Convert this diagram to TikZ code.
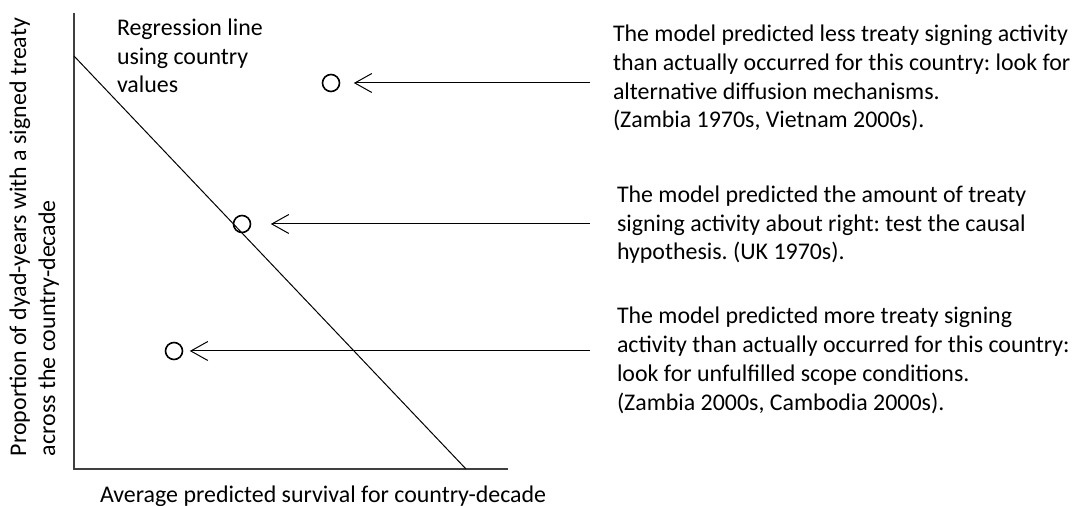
\documentclass[tikz,border=0pt]{standalone}
\usepackage{fontspec}
\setmainfont{Carlito}
\usetikzlibrary{arrows.meta}
\begin{document}
\frenchspacing
\begin{tikzpicture}[x=1bp,y=-1bp,
  lbl/.style={inner sep=0pt, outer sep=0pt, align=left, anchor=base west,
    font=\fontsize{23.9bp}{28.8bp}\selectfont\frenchspacing},
  pt/.style={circle, draw, line width=1.6bp, minimum size=17bp, inner sep=0pt},
  axis/.style={draw=black!75, line width=1.5bp},
  arr/.style={line width=1bp, -{Straight Barb[length=17bp,width=19bp,line width=1bp]}}]
\useasboundingbox (0,0) rectangle (1085,506);
% axes
\draw[axis] (74,13) -- (74,469) -- (508,469);
% regression line
\coordinate (r1) at (74,56);
\coordinate (r2) at (466,469);
\draw[line width=1bp] (r1) -- (r2);
% points
\node[pt] (c1) at (331,83) {};
\node[pt] (c2) at (242,224) {};
\node[pt] (c3) at (174,351) {};
% arrow starts
\coordinate (s1) at (590,83);
\coordinate (s2) at (590,224);
\coordinate (s3) at (590,351);
\draw[arr, shorten >=13.5bp] (s1) -- (c1);
\draw[arr, shorten >=19.5bp] (s2) -- (c2);
\draw[arr, shorten >=6.5bp] (s3) -- (c3);
% labels (anchor = baseline of last line)
\node[lbl] (reg) at (117,93) {Regression line\\using country\\values};
\node[lbl] (t1) at (613,128) {The model predicted less treaty signing activity\\than actually occurred for this country: look for\\alternative diffusion mechanisms.\\(Zambia 1970s, Vietnam 2000s).};
\node[lbl] (t2) at (617,260) {The model predicted the amount of treaty\\signing activity about right: test the causal\\hypothesis. (UK 1970s).};
\node[lbl] (t3) at (617,410) {The model predicted more treaty signing\\activity than actually occurred for this country:\\look for unfulfilled scope conditions.\\(Zambia 2000s, Cambodia 2000s).};
\node[lbl] (xl) at (100,502) {Average predicted survival for country-decade};
\node[lbl, rotate=90] (yl) at (55,456) {Proportion of dyad-years with a signed treaty\\across the country-decade};
\end{tikzpicture}
\end{document}
